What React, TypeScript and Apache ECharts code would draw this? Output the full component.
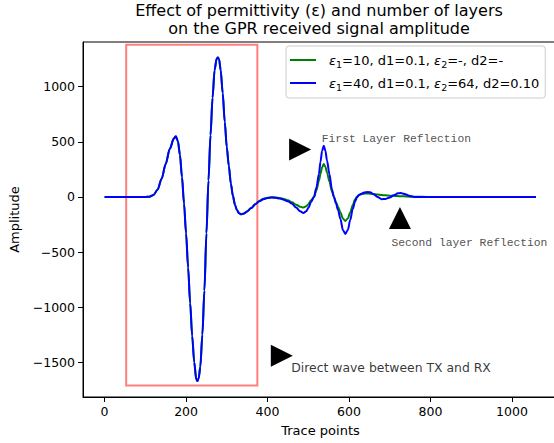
import React, { useEffect, useRef } from "react";
import * as echarts from "echarts";

const traceX = [
  0, 50, 100, 110, 120, 130, 140, 150, 160, 170,
  175, 180, 185, 190, 195, 200, 205, 210, 215, 220,
  225, 228, 231, 235, 240, 245, 250, 255, 260, 265,
  270, 275, 278, 281, 285, 290, 295, 300, 305, 310,
  315, 320, 325, 330, 336, 342, 350, 360, 370, 380,
  390, 400, 410, 420, 430, 440, 450, 460, 470, 480,
  488, 495, 500, 507, 514, 520, 526, 530, 534, 538,
  542, 546, 552, 558, 563, 568, 573, 579, 585, 591,
  597, 603, 609, 615, 620, 625, 630, 640, 646, 652,
  660, 670, 680, 690, 700, 710, 720, 726, 732, 740,
  750, 760, 780, 800, 900, 1000, 1059,
];

const blueY = [
  0, 0, 0, 3, 18, 65, 165, 300, 435, 530,
  551, 505, 380, 180, -60, -330, -640, -960, -1260, -1500,
  -1655, -1670, -1645, -1540, -1250, -850, -330, 150, 560, 900,
  1150, 1255, 1265, 1250, 1150, 940, 680, 450, 280, 120,
  10, -70, -120, -148, -157, -150, -132, -100, -65, -38,
  -20, -10, -6, -8, -15, -25, -40, -62, -95, -130,
  -145, -130, -100, -45, 0, 85, 205, 320, 420, 465,
  420, 330, 205, 70, 0, -60, -120, -200, -300, -335,
  -300, -210, -110, -40, 0, 20, 30, 42, 45, 42,
  25, 0, -20, -18, -5, 15, 33, 36, 32, 22,
  8, 0, 0, 0, 0, 0, 0,
];

const greenY = [
  0, 0, 0, 3, 18, 65, 165, 300, 435, 530,
  551, 505, 380, 180, -60, -330, -640, -960, -1260, -1500,
  -1655, -1670, -1645, -1540, -1250, -850, -330, 150, 560, 900,
  1150, 1255, 1265, 1250, 1150, 940, 680, 450, 280, 120,
  10, -70, -120, -148, -157, -150, -132, -100, -65, -36,
  -17, -7, -3, -4, -10, -18, -30, -48, -70, -88,
  -96, -85, -65, -30, 0, 60, 145, 210, 270, 300,
  275, 220, 140, 50, 0, -45, -90, -140, -195, -218,
  -195, -140, -75, -20, 5, 18, 25, 31, 32, 30,
  27, 22, 18, 15, 12, 10, 8, 7, 6, 5,
  3, 2, 1, 0, 0, 0, 0,
];

const seriesNames = [
  "ε1=10, d1=0.1, ε2=-, d2=-",
  "ε1=40, d1=0.1, ε2=64, d2=0.10",
];
const seriesColors = ["#008000", "#0000ff"];

const xTicks = [0, 200, 400, 600, 800, 1000];
const yTicks = [-1500, -1000, -500, 0, 500, 1000];

const boxX = [53, 375];
const boxY = [-1710, 1380];

const markerX = [480, 725, 435];
const markerY = [430, -190, -1440];
const markerDir = ["right", "up", "right"];

const noteX = [532, 703, 457];
const noteY = [530, -414, -1548];
const noteText = [
  "First Layer Reflection",
  "Second layer Reflection",
  "Direct wave between TX and RX",
];
const noteMono = [true, true, false];

const SANS = "DejaVu Sans";
const MONO = "Liberation Mono";

const fmtTick = (v: number) => (v < 0 ? "\u2212" + String(-v) : String(v));

export default function App() {
  const ref = useRef<HTMLDivElement>(null);
  useEffect(() => {
    if (!ref.current) return;
    const chart = echarts.init(ref.current, undefined, { renderer: "svg" });
    const lineSeries = [greenY, blueY].map((ys, k) => ({
      type: "line",
      name: seriesNames[k],
      data: traceX.map((x, i) => [x, ys[i]]),
      symbol: "none",
      smooth: 0.3,
      smoothMonotone: "x",
      lineStyle: { color: seriesColors[k], width: 2 },
      itemStyle: { color: seriesColors[k] },
      z: 3,
      markArea:
        k === 1
          ? {
              silent: true,
              itemStyle: {
                color: "rgba(0,0,0,0)",
                borderColor: "rgba(255,0,0,0.5)",
                borderWidth: 2,
              },
              data: [[{ coord: [boxX[0], boxY[0]] }, { coord: [boxX[1], boxY[1]] }]],
            }
          : undefined,
    }));
    const option: any = {
      animation: false,
      title: {
        text: "Effect of permittivity (ε) and number of layers\non the GPR received signal amplitude",
        left: 319,
        top: 1,
        padding: 0,
        textAlign: "center",
        textStyle: {
          fontFamily: SANS,
          fontSize: 16,
          fontWeight: "normal",
          color: "#000",
          lineHeight: 18.5,
        },
      },
      legend: {
        orient: "vertical",
        left: 286,
        top: 46,
        padding: [5, 6, 6, 4],
        itemGap: 5,
        itemWidth: 26,
        itemHeight: 2,
        icon: "rect",
        backgroundColor: "rgba(255,255,255,0.8)",
        borderColor: "#cccccc",
        borderWidth: 1,
        borderRadius: 3,
        data: seriesNames,
        formatter: (name: string) =>
          "{g| }" + name.replace(/ε(\d)/g, "{e|ε}{s|$1}"),
        textStyle: {
          fontFamily: SANS,
          fontSize: 13,
          color: "#000",
          lineHeight: 18,
          rich: {
            g: { width: 8, fontSize: 13, lineHeight: 18 },
            e: { fontFamily: SANS, fontStyle: "italic", fontSize: 13, lineHeight: 18, color: "#000" },
            s: { fontFamily: SANS, fontSize: 9.5, lineHeight: 10, verticalAlign: "bottom", color: "#000" },
          },
        },
      },
      grid: {
        left: 81,
        top: 42,
        width: 477,
        height: 355,
        show: true,
        borderColor: "#000",
        borderWidth: 1,
        backgroundColor: "transparent",
      },
      xAxis: {
        type: "value",
        min: -53,
        max: 1113,
        name: "Trace points",
        nameLocation: "middle",
        nameGap: 27,
        nameTextStyle: { fontFamily: SANS, fontSize: 13, color: "#000" },
        axisLine: { show: true, onZero: false, lineStyle: { color: "#000", width: 1 } },
        axisTick: { show: true, length: 5, inside: false, customValues: xTicks, lineStyle: { color: "#000" } },
        axisLabel: { customValues: xTicks, formatter: fmtTick, margin: 8, fontFamily: SANS, fontSize: 12.5, color: "#000" },
        splitLine: { show: false },
      },
      yAxis: {
        type: "value",
        min: -1815,
        max: 1406,
        name: "Amplitude",
        nameLocation: "middle",
        nameGap: 62,
        nameTextStyle: { fontFamily: SANS, fontSize: 13, color: "#000" },
        axisLine: { show: true, onZero: false, lineStyle: { color: "#000", width: 1 } },
        axisTick: { show: true, length: 5, inside: false, customValues: yTicks, lineStyle: { color: "#000" } },
        axisLabel: { customValues: yTicks, formatter: fmtTick, margin: 8, fontFamily: SANS, fontSize: 12.5, color: "#000" },
        splitLine: { show: false },
      },
      series: [
        ...lineSeries,
        {
          type: "scatter",
          silent: true,
          z: 5,
          symbolSize: 22,
          itemStyle: { color: "#000", opacity: 1 },
          data: markerX.map((x, i) => ({
            value: [x, markerY[i]],
            symbol:
              markerDir[i] === "right"
                ? "path://M0,0L2,1L0,2Z"
                : "path://M1,0L2,2L0,2Z",
          })),
        },
        {
          type: "scatter",
          silent: true,
          z: 5,
          symbolSize: 1,
          itemStyle: { color: "rgba(0,0,0,0)" },
          data: noteX.map((x, i) => ({
            value: [x, noteY[i]],
            name: noteText[i],
            label: {
              show: true,
              formatter: "{b}",
              position: "right",
              distance: 0,
              color: noteMono[i] ? "#222" : "#000",
              fontFamily: noteMono[i] ? MONO : SANS,
              fontSize: noteMono[i] ? 11.3 : 12.4,
            },
          })),
        },
      ],
    };
    chart.setOption(option);
    return () => chart.dispose();
  }, []);
  return (
    <div style={{ position: "absolute", left: 0, top: 0, width: 554, height: 443, overflow: "hidden", background: "#fff" }}>
      <div ref={ref} style={{ width: 560, height: 443 }} />
    </div>
  );
}
